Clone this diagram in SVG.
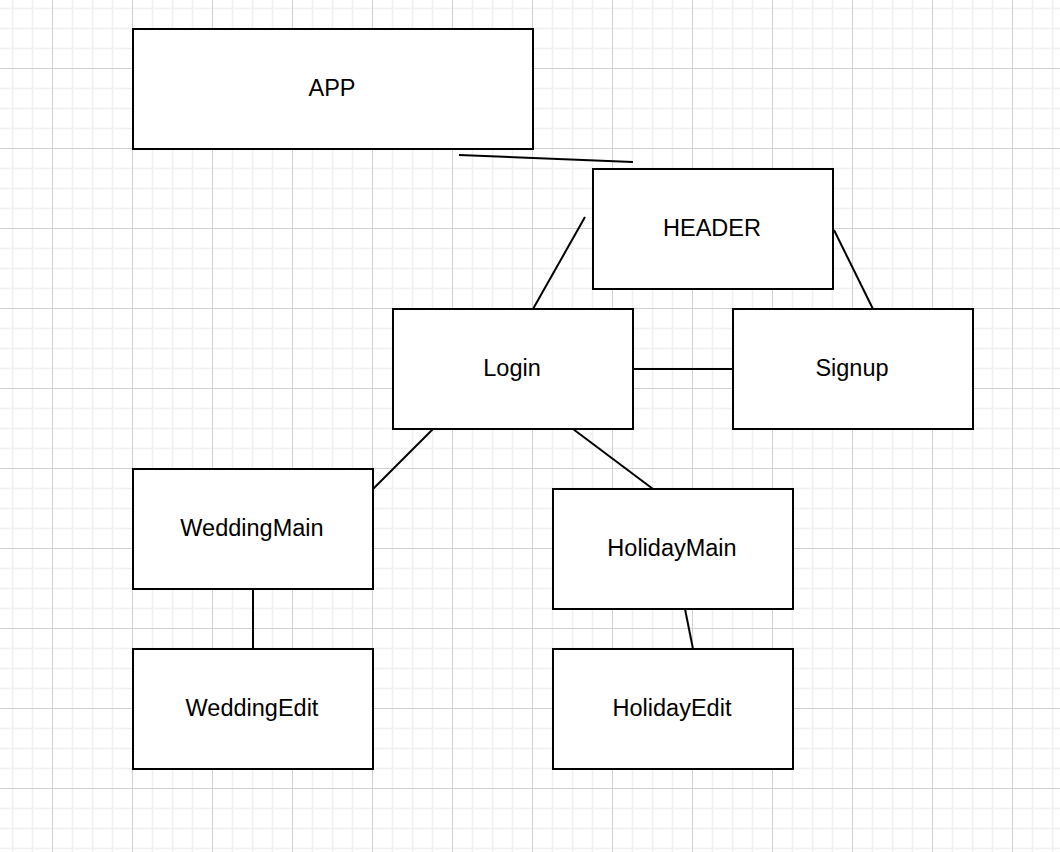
<svg xmlns="http://www.w3.org/2000/svg" width="1060" height="852" viewBox="0 0 1060 852">
  <defs>
    <pattern id="grid" patternUnits="userSpaceOnUse" x="-28" y="-12" width="80" height="80">
      <path d="M20.5 0V80M40.5 0V80M60.5 0V80M0 20.5H80M0 40.5H80M0 60.5H80" stroke="#f0f0f0" stroke-width="1.5" fill="none"/>
      <path d="M0.5 0V80M0 0.5H80" stroke="#d0d0d0" stroke-width="1" fill="none"/>
    </pattern>
    <style>
      .box { fill: #ffffff; stroke: #000000; stroke-width: 2; }
      .lbl { font-family: "Liberation Sans", Arial, Helvetica, sans-serif; font-size: 23.5px; fill: #000000; text-anchor: middle; }
      .conn line { stroke: #000000; stroke-width: 2; }
    </style>
  </defs>
  <rect x="0" y="0" width="1060" height="852" fill="#ffffff"/>
  <rect x="0" y="0" width="1060" height="852" fill="url(#grid)"/>

  <g id="connectors" class="conn">
    <line x1="459" y1="155" x2="633" y2="162"/>
    <line x1="585" y1="217" x2="533" y2="309"/>
    <line x1="834" y1="230" x2="873" y2="309"/>
    <line x1="633" y1="369" x2="733" y2="369"/>
    <line x1="433" y1="429" x2="373" y2="489"/>
    <line x1="573" y1="429" x2="653" y2="489"/>
    <line x1="253" y1="589" x2="253" y2="649"/>
    <line x1="685" y1="609" x2="693" y2="649"/>
  </g>

  <g id="app">
    <rect class="box" x="133" y="29" width="400" height="120"/>
    <text class="lbl" x="332" y="96">APP</text>
  </g>
  <g id="header">
    <rect class="box" x="593" y="169" width="240" height="120"/>
    <text class="lbl" x="712" y="236">HEADER</text>
  </g>
  <g id="login">
    <rect class="box" x="393" y="309" width="240" height="120"/>
    <text class="lbl" x="512" y="376">Login</text>
  </g>
  <g id="signup">
    <rect class="box" x="733" y="309" width="240" height="120"/>
    <text class="lbl" x="852" y="376">Signup</text>
  </g>
  <g id="weddingmain">
    <rect class="box" x="133" y="469" width="240" height="120"/>
    <text class="lbl" x="252" y="536">WeddingMain</text>
  </g>
  <g id="holidaymain">
    <rect class="box" x="553" y="489" width="240" height="120"/>
    <text class="lbl" x="672" y="556">HolidayMain</text>
  </g>
  <g id="weddingedit">
    <rect class="box" x="133" y="649" width="240" height="120"/>
    <text class="lbl" x="252" y="716">WeddingEdit</text>
  </g>
  <g id="holidayedit">
    <rect class="box" x="553" y="649" width="240" height="120"/>
    <text class="lbl" x="672" y="716">HolidayEdit</text>
  </g>
</svg>
